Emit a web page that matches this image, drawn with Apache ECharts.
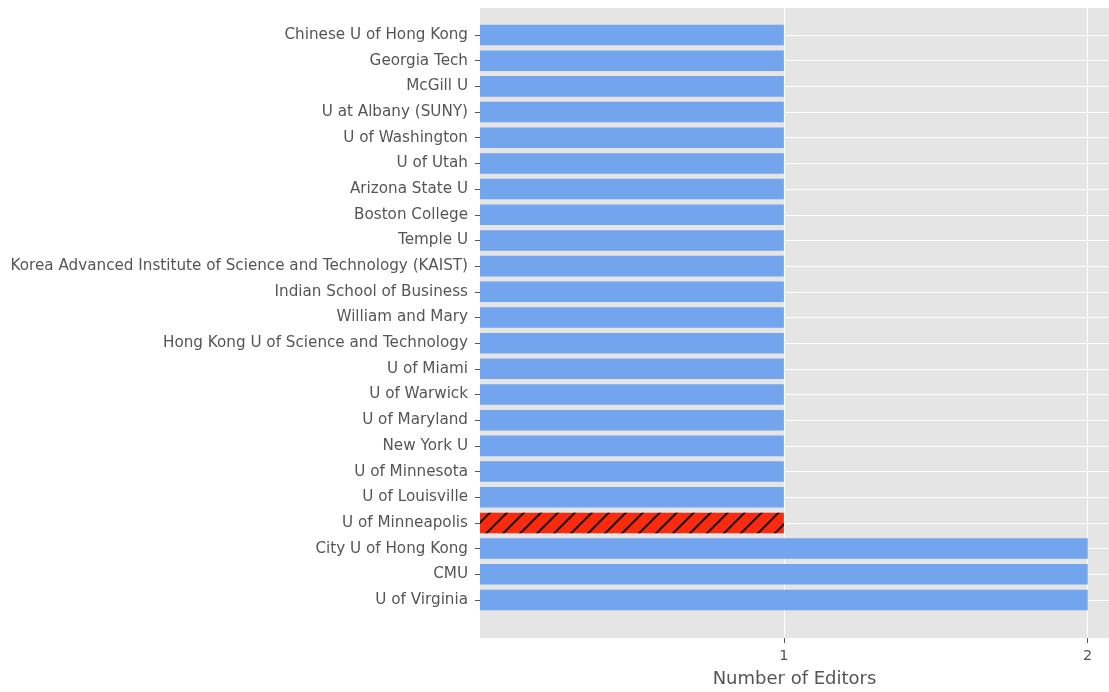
<!DOCTYPE html>
<html>
<head>
<meta charset="utf-8">
<script src="https://cdn.jsdelivr.net/npm/echarts@6/dist/echarts.min.js"></script>
<style>
  html, body { margin: 0; padding: 0; background: #fff; }
  #chart { width: 1109px; height: 692px; }
</style>
</head>
<body>
<div id="chart"></div>
<script>
// ---- data ----
const categories = [
  "Chinese U of Hong Kong",
  "Georgia Tech",
  "McGill U",
  "U at Albany (SUNY)",
  "U of Washington",
  "U of Utah",
  "Arizona State U",
  "Boston College",
  "Temple U",
  "Korea Advanced Institute of Science and Technology (KAIST)",
  "Indian School of Business",
  "William and Mary",
  "Hong Kong U of Science and Technology",
  "U of Miami",
  "U of Warwick",
  "U of Maryland",
  "New York U",
  "U of Minnesota",
  "U of Louisville",
  "U of Minneapolis",
  "City U of Hong Kong",
  "CMU",
  "U of Virginia"
];
const editors = [1,1,1,1,1,1,1,1,1,1,1,1,1,1,1,1,1,1,1,1,2,2,2];
const highlighted = ["U of Minneapolis"];
const xTickValues = [1, 2];
const xAxisTitle = "Number of Editors";

// ---- chart ----
const FONT = "DejaVu Sans";
const TEXT = "#555555";
const BAR = "#72a5ee";
const RED = "#fa2a0e";

const barData = categories.map((c, i) => {
  if (highlighted.includes(c)) {
    return {
      value: editors[i],
      itemStyle: {
        color: RED,
        decal: {
          symbol: 'rect',
          symbolSize: 1,
          color: '#111',
          dashArrayX: [1, 0],
          dashArrayY: [1.3, 10],
          rotation: -Math.PI / 4
        }
      }
    };
  }
  return { value: editors[i] };
});

const chart = echarts.init(document.getElementById('chart'), null, { renderer: 'canvas' });
const panelLeft = 480, panelTop = 8, panelHeight = 630;
const xMax = 2.07;
const panelWidth = 629;
const band = 25.68;
const firstCenter = 35;

chart.setOption({
  animation: false,
  backgroundColor: '#ffffff',
  grid: [
    { left: panelLeft, top: panelTop, width: panelWidth, height: panelHeight,
      show: true, backgroundColor: '#e5e5e5', borderWidth: 0, outerBoundsMode: 'none', containLabel: false },
    { left: panelLeft, top: firstCenter - band / 2, width: panelWidth,
      height: band * categories.length, show: false, outerBoundsMode: 'none', containLabel: false }
  ],
  xAxis: [
    {
      gridIndex: 0, type: 'value', min: 0, max: xMax, interval: 1,
      axisLine: { show: false },
      axisTick: { show: true, customValues: xTickValues, length: 5, lineStyle: { color: TEXT } },
      axisLabel: { customValues: xTickValues, color: TEXT, fontFamily: FONT, fontSize: 14.5, margin: 11 },
      splitLine: { show: true, lineStyle: { color: '#ffffff', width: 1 } },
      name: xAxisTitle, nameLocation: 'middle', nameGap: 32,
      nameTextStyle: { color: TEXT, fontFamily: FONT, fontSize: 18 }
    },
    {
      gridIndex: 1, type: 'value', min: 0, max: xMax, show: false,
      splitLine: { show: false }
    }
  ],
  yAxis: [
    { gridIndex: 0, type: 'value', show: false, splitLine: { show: false } },
    {
      gridIndex: 1, type: 'category', data: categories, inverse: true,
      axisLine: { show: false },
      axisTick: { show: true, alignWithLabel: true, interval: 0, length: 5, lineStyle: { color: TEXT } },
      axisLabel: { interval: 0, color: TEXT, fontFamily: FONT, fontSize: 15.2, margin: 12 },
      splitLine: { show: true, alignWithLabel: true, interval: 0, lineStyle: { color: '#ffffff', width: 1 } }
    }
  ],
  series: [
    {
      type: 'bar', xAxisIndex: 1, yAxisIndex: 1,
      data: barData,
      barCategoryGap: '20%',
      itemStyle: { color: BAR }
    }
  ]
});
</script>
</body>
</html>
